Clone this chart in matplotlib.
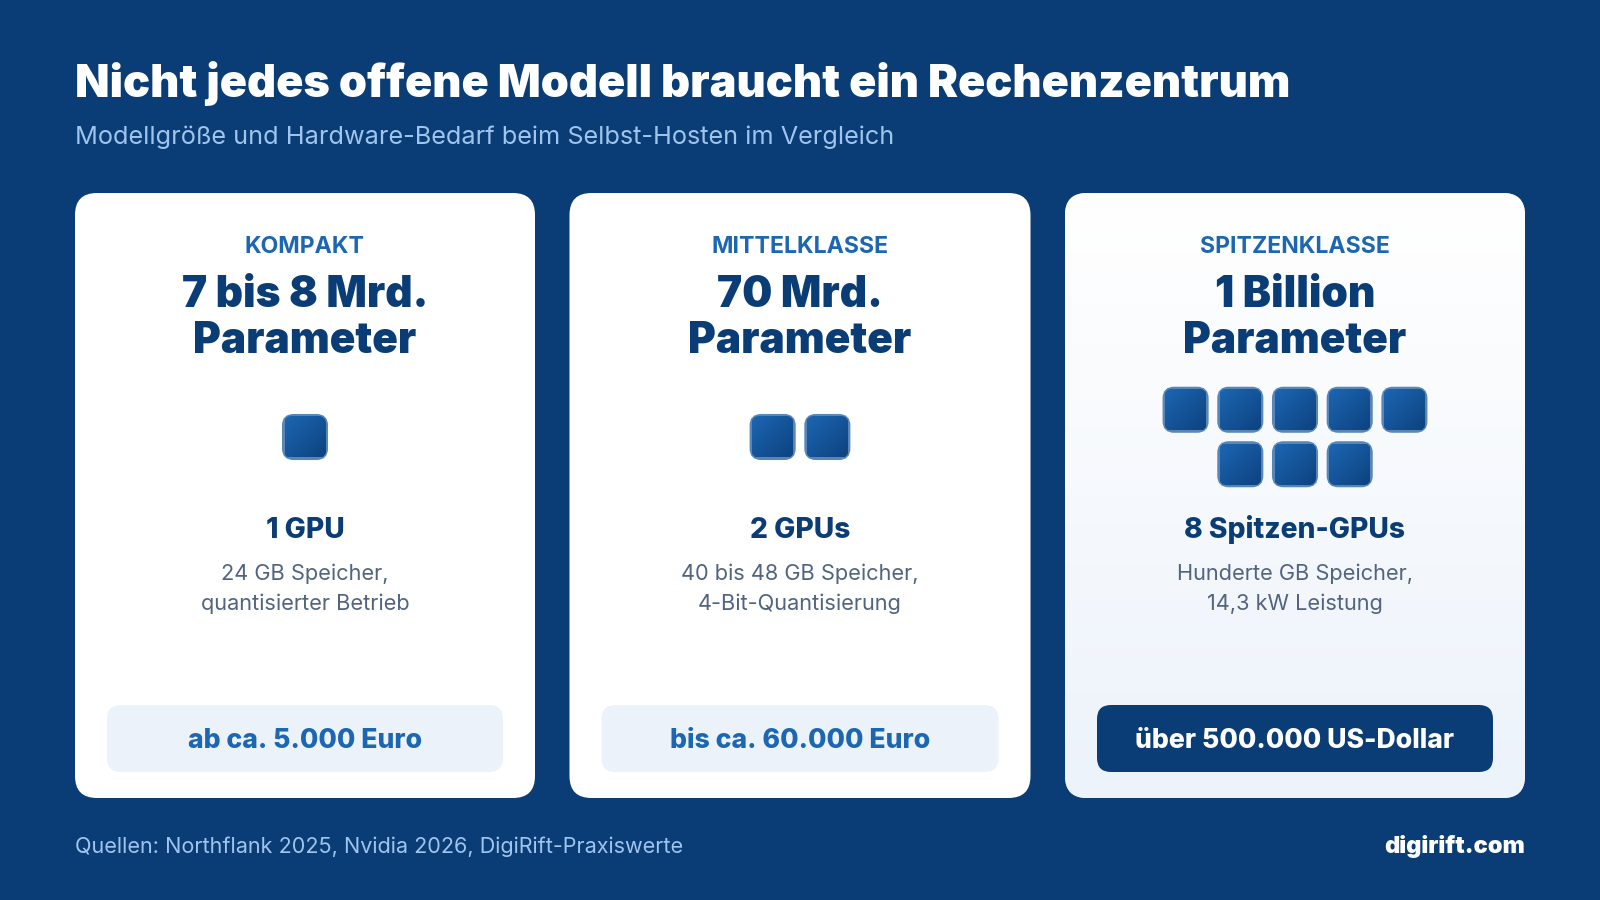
import numpy as np
from matplotlib import pyplot as plt
from matplotlib.patches import FancyBboxPatch
from matplotlib.colors import LinearSegmentedColormap

# card contents
tiers = ['KOMPAKT', 'MITTELKLASSE', 'SPITZENKLASSE']
sizes = [['7 bis 8 Mrd.', 'Parameter'], ['70 Mrd.', 'Parameter'], ['1 Billion', 'Parameter']]
gpu_counts = [1, 2, 8]
gpu_labels = ['1 GPU', '2 GPUs', '8 Spitzen-GPUs']
details = [['24 GB Speicher,', 'quantisierter Betrieb'],
           ['40 bis 48 GB Speicher,', '4-Bit-Quantisierung'],
           ['Hunderte GB Speicher,', '14,3 kW Leistung']]
prices = ['ab ca. 5.000 Euro', 'bis ca. 60.000 Euro', 'über 500.000 US-Dollar']

title = 'Nicht jedes offene Modell braucht ein Rechenzentrum'
subtitle = 'Modellgröße und Hardware-Bedarf beim Selbst-Hosten im Vergleich'
source = 'Quellen: Northflank 2025, Nvidia 2026, DigiRift-Praxiswerte'
brand = 'digirift.com'

NAVY = '#0a3d75'
BLUE = '#1c66b2'
FONT = ['Inter', 'DejaVu Sans']

plt.rcParams['font.family'] = FONT

fig = plt.figure(figsize=(16, 9), dpi=100, facecolor=NAVY)
ax = fig.add_axes([0, 0, 1, 1])
ax.set_xlim(0, 1600)
ax.set_ylim(900, 0)
ax.axis('off')


def rounded(x0, y0, x1, y1, r, **kw):
    p = FancyBboxPatch((x0 + r, y0 + r), x1 - x0 - 2 * r, y1 - y0 - 2 * r,
                       boxstyle='round,pad=%g,rounding_size=%g' % (r, r), **kw)
    ax.add_patch(p)
    return p


def gradient(p, extent, colors, direction):
    # fill a patch with a gradient, clipped to its shape
    cmap = LinearSegmentedColormap.from_list('g', colors)
    n = 64
    yy, xx = np.mgrid[0:1:n * 1j, 0:1:n * 1j]
    if direction == 'v':
        z = yy
    else:
        z = (xx + yy) / 2
    im = ax.imshow(z, extent=extent, cmap=cmap, vmin=0, vmax=1, origin='upper',
                   aspect='auto', zorder=p.get_zorder() + 0.1)
    im.set_clip_path(p)


card_w = [460, 461, 460]
card_x = [75, 569.5, 1065]
cy0, cy1 = 193, 798

for i in range(3):
    x0 = card_x[i]
    x1 = x0 + card_w[i]
    cx = (x0 + x1) / 2
    top_tier = i == 2

    card = rounded(x0, cy0, x1, cy1, 22, fc='white', ec='none', zorder=1)
    if top_tier:
        gradient(card, (x0, x1, cy1, cy0), ['#ffffff', '#edf3fb'], 'v')

    ax.text(cx, 247, tiers[i], ha='center', va='center', fontsize=16.6, weight='bold',
            color=BLUE, zorder=5)
    ax.text(cx, 295.5, sizes[i][0], ha='center', va='center', fontsize=30.5, weight='black',
            color=NAVY, zorder=5)
    ax.text(cx, 341.5, sizes[i][1], ha='center', va='center', fontsize=30.5, weight='black',
            color=NAVY, zorder=5)

    # gpu squares, five per row at most
    n = gpu_counts[i]
    rows = [n] if n <= 5 else [5, n - 5]
    y_start = 437 - (len(rows) * 45 + (len(rows) - 1) * 9.5) / 2
    for r, m in enumerate(rows):
        row_w = m * 45 + (m - 1) * 9.7
        for k in range(m):
            gx = cx - row_w / 2 + k * 54.7
            gy = y_start + r * 54.5
            sq = rounded(gx + 1, gy + 1, gx + 44, gy + 44, 10, fc='#1c5fa6', ec='#5a86b6',
                         lw=2.2, zorder=3)
            gradient(sq, (gx + 2, gx + 43, gy + 43, gy + 2), ['#1c66b2', '#0d427f'], 'd')

    ax.text(cx, 530, gpu_labels[i], ha='center', va='center', fontsize=20.3, weight='heavy',
            color=NAVY, zorder=5)
    ax.text(cx, 574, details[i][0], ha='center', va='center', fontsize=15.7,
            color='#52647f', zorder=5)
    ax.text(cx, 604, details[i][1], ha='center', va='center', fontsize=15.7,
            color='#52647f', zorder=5)

    rounded(x0 + 32, 705, x1 - 32, 772, 14, fc=NAVY if top_tier else '#ebf2fa', ec='none', zorder=3)
    ax.text(cx, 740.5, prices[i], ha='center', va='center', fontsize=19.2, weight='heavy',
            color='white' if top_tier else BLUE, zorder=5)

ax.text(75, 84, title, ha='left', va='center', fontsize=32.4, weight='black', color='white')
ax.text(75, 137.5, subtitle, ha='left', va='center', fontsize=18.2, color='#9fc4ee')
ax.text(75, 847, source, ha='left', va='center', fontsize=15.55, color='#9fc4ee')
ax.text(1525, 846.5, brand, ha='right', va='center', fontsize=17, weight='black', color='white')

fig.savefig('out.png', dpi=100, facecolor=NAVY)
